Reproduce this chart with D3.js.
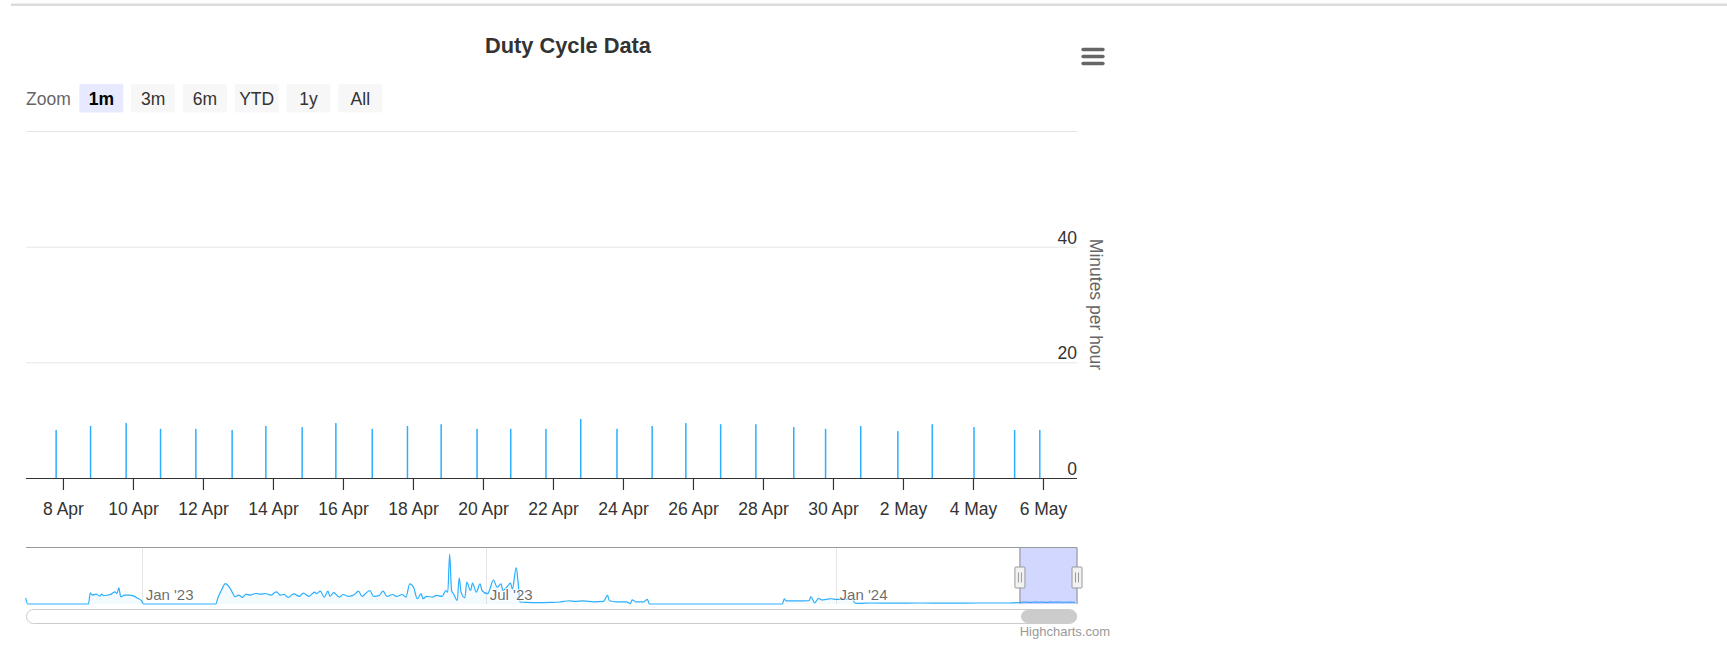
<!DOCTYPE html>
<html>
<head>
<meta charset="utf-8">
<script src="https://cdnjs.cloudflare.com/ajax/libs/d3/7.8.5/d3.min.js"></script>
<style>
  body { margin: 0; background: #fff; }
  svg { display: block; font-family: "Liberation Sans", Arial, Helvetica, sans-serif; }
</style>
</head>
<body>
<svg id="chart" width="1727" height="660"></svg>
<script>
// Main chart: one reading per day (minutes per hour)
var barTimes = [
  '2024-04-07T19:20Z', '2024-04-08T18:56Z', '2024-04-09T19:20Z', '2024-04-10T18:56Z',
  '2024-04-11T19:08Z', '2024-04-12T20:01Z', '2024-04-13T19:08Z', '2024-04-14T20:01Z',
  '2024-04-15T19:08Z', '2024-04-16T20:05Z', '2024-04-17T20:14Z', '2024-04-18T19:20Z',
  '2024-04-19T19:57Z', '2024-04-20T19:03Z', '2024-04-21T19:12Z', '2024-04-22T19:03Z',
  '2024-04-23T19:54Z', '2024-04-24T20:01Z', '2024-04-25T19:08Z', '2024-04-26T18:59Z',
  '2024-04-27T19:08Z', '2024-04-28T21:07Z', '2024-04-29T18:56Z', '2024-04-30T19:03Z',
  '2024-05-01T20:30Z', '2024-05-02T20:05Z', '2024-05-04T00:43Z', '2024-05-05T04:34Z',
  '2024-05-05T21:50Z'
]
var barValues = [
  8.3, 9.0, 9.5, 8.5, 8.5, 8.3, 9.0, 8.8, 9.5, 8.5, 9.0, 9.3, 8.5, 8.5, 8.5, 10.2,
  8.5, 9.0, 9.5, 9.3, 9.3, 8.8, 8.5, 9.0, 8.1, 9.3, 8.8, 8.3, 8.3
]
var yTicks = [0, 20, 40, 60]
var xTickDates = [
  '2024-04-08', '2024-04-10', '2024-04-12', '2024-04-14', '2024-04-16', '2024-04-18',
  '2024-04-20', '2024-04-22', '2024-04-24', '2024-04-26', '2024-04-28', '2024-04-30',
  '2024-05-02', '2024-05-04', '2024-05-06'
]
var viewRange = ['2024-04-06T22:40Z', '2024-05-06T23:20Z']

// Navigator: full history before the zoomed window
var navDates = [
  '2022-11-01', '2022-11-02', '2022-12-04', '2022-12-05', '2022-12-06', '2022-12-08',
  '2022-12-10', '2022-12-11', '2022-12-12', '2022-12-14', '2022-12-16', '2022-12-18',
  '2022-12-19', '2022-12-20', '2022-12-21', '2022-12-23', '2022-12-25', '2022-12-28',
  '2022-12-30', '2023-01-01', '2023-01-02', '2023-02-09', '2023-02-10', '2023-02-12',
  '2023-02-14', '2023-02-16', '2023-02-18', '2023-02-19', '2023-02-21', '2023-02-23',
  '2023-02-25', '2023-02-27', '2023-03-02', '2023-03-05', '2023-03-07', '2023-03-10',
  '2023-03-12', '2023-03-13', '2023-03-15', '2023-03-17', '2023-03-19', '2023-03-22',
  '2023-03-25', '2023-03-27', '2023-03-30', '2023-04-02', '2023-04-03', '2023-04-05',
  '2023-04-07', '2023-04-09', '2023-04-10', '2023-04-12', '2023-04-15', '2023-04-17',
  '2023-04-20', '2023-04-23', '2023-04-25', '2023-04-27', '2023-04-29', '2023-05-01',
  '2023-05-03', '2023-05-06', '2023-05-08', '2023-05-10', '2023-05-13', '2023-05-15',
  '2023-05-18', '2023-05-20', '2023-05-22', '2023-05-24', '2023-05-26', '2023-05-28',
  '2023-05-29', '2023-05-31', '2023-06-03', '2023-06-05', '2023-06-08', '2023-06-10',
  '2023-06-11', '2023-06-12', '2023-06-13', '2023-06-14', '2023-06-16', '2023-06-17',
  '2023-06-18', '2023-06-20', '2023-06-21', '2023-06-23', '2023-06-24', '2023-06-26',
  '2023-06-28', '2023-06-29', '2023-07-02', '2023-07-03', '2023-07-05', '2023-07-07',
  '2023-07-09', '2023-07-10', '2023-07-12', '2023-07-14', '2023-07-15', '2023-07-17',
  '2023-07-18', '2023-07-19', '2023-07-23', '2023-07-28', '2023-08-04', '2023-08-09',
  '2023-08-11', '2023-08-14', '2023-08-17', '2023-08-21', '2023-08-27', '2023-09-01',
  '2023-09-03', '2023-09-04', '2023-09-08', '2023-09-13', '2023-09-15', '2023-09-16',
  '2023-09-18', '2023-09-22', '2023-09-24', '2023-09-25', '2023-12-04', '2023-12-05',
  '2023-12-06', '2023-12-11', '2023-12-18', '2023-12-19', '2023-12-21', '2023-12-23',
  '2023-12-25', '2023-12-27', '2023-12-30', '2024-01-01', '2024-01-10', '2024-01-11',
  '2024-01-12', '2024-01-20', '2024-02-01', '2024-02-15', '2024-03-01', '2024-03-15',
  '2024-04-01'
]
var navValues = [
  30, 0, 0, 55, 44, 49, 39, 49, 41, 44, 49, 60,
  52, 80, 36, 44, 44, 39, 28, 16, 0, 0, 28, 69,
  101, 85, 52, 36, 44, 33, 49, 44, 52, 49, 52, 44,
  57, 60, 44, 48, 33, 50, 38, 54, 38, 59, 51, 64,
  34, 64, 38, 56, 34, 47, 38, 47, 64, 38, 54, 67,
  38, 43, 64, 38, 47, 38, 47, 34, 100, 83, 26, 51,
  26, 38, 34, 43, 38, 67, 59, 247, 67, 51, 18, 130,
  59, 31, 108, 67, 103, 59, 100, 67, 51, 70, 119, 83,
  100, 67, 83, 103, 75, 181, 108, 10, 8, 7, 8, 10,
  13, 16, 13, 15, 11, 13, 44, 16, 11, 11, 2, 20,
  11, 11, 23, 0, 0, 25, 15, 15, 16, 37, 6, 28,
  20, 23, 26, 23, 23, 6, 3, 5, 4, 5, 4, 5,
  5
]
var navTicks = ['2023-01-01', '2023-07-01', '2024-01-01']
var navRange = ['2022-11-01T04:00Z', '2024-05-06T23:00Z']
var navMax = 280

var zoomButtons = ['1m', '3m', '6m', 'YTD', '1y', 'All']
var selectedButton = '1m'

var blue = '#2caffe'
var svg = d3.select('#chart')

// frame: plot and navigator boxes
var plot = { left: 26, right: 1077, top: 131, bottom: 478 }
var nav = { top: 547.5, bottom: 604 }

// page rule at the top
svg.append('rect')
  .attr('x', 11).attr('y', 3.5).attr('width', 1716).attr('height', 2.5)
  .attr('fill', '#dcdcdc')

// title
svg.append('text')
  .attr('x', 568).attr('y', 53)
  .attr('text-anchor', 'middle')
  .attr('font-size', '21.8px').attr('font-weight', 'bold')
  .attr('fill', '#333333')
  .text('Duty Cycle Data')

// context menu icon
;[49.5, 56.5, 63.5].forEach(function (y) {
  svg.append('line')
    .attr('x1', 1083).attr('x2', 1103).attr('y1', y).attr('y2', y)
    .attr('stroke', '#666666').attr('stroke-width', 3.3)
    .attr('stroke-linecap', 'round')
})

// range selector
svg.append('text')
  .attr('x', 26).attr('y', 104.5)
  .attr('font-size', '17.5px').attr('fill', '#666666')
  .text('Zoom')

var btnStep = 51.8
var btnGap = 7.8
var btnScale = d3.scaleBand()
  .domain(zoomButtons)
  .range([79.3, 79.3 + btnStep * zoomButtons.length - btnGap])
  .paddingInner(btnGap / btnStep)
  .paddingOuter(0)

var btn = svg.append('g').selectAll('g')
  .data(zoomButtons)
  .join('g')
  .attr('transform', function (d) { return 'translate(' + btnScale(d) + ',84)' })
btn.append('rect')
  .attr('width', btnScale.bandwidth()).attr('height', 28.5)
  .attr('rx', 2)
  .attr('fill', function (d) { return d === selectedButton ? '#e6e9ff' : '#f7f7f7' })
btn.append('text')
  .attr('x', btnScale.bandwidth() / 2).attr('y', 20.5)
  .attr('text-anchor', 'middle')
  .attr('font-size', '17.5px')
  .attr('font-weight', function (d) { return d === selectedButton ? 'bold' : 'normal' })
  .attr('fill', function (d) { return d === selectedButton ? '#000000' : '#333333' })
  .text(function (d) { return d })

// main scales
var parse = function (s) { return new Date(s.length === 10 ? s + 'T00:00:00Z' : s) }
var x = d3.scaleUtc()
  .domain(viewRange.map(parse))
  .range([plot.left, plot.right])
var y = d3.scaleLinear()
  .domain([0, 60])
  .range([plot.bottom, plot.top])

// grid lines + right side labels
var grid = svg.append('g')
grid.selectAll('line')
  .data(yTicks)
  .join('line')
  .attr('x1', plot.left).attr('x2', plot.right)
  .attr('y1', function (d) { return y(d) + 0.5 })
  .attr('y2', function (d) { return y(d) + 0.5 })
  .attr('stroke', '#e6e6e6').attr('stroke-width', 1)
grid.selectAll('text')
  .data(yTicks.slice(0, -1))
  .join('text')
  .attr('x', plot.right).attr('y', function (d) { return y(d) - 3 })
  .attr('text-anchor', 'end')
  .attr('font-size', '17.5px').attr('fill', '#333333')
  .text(function (d) { return d })

svg.append('text')
  .attr('transform', 'translate(1090,' + ((plot.top + plot.bottom) / 2) + ') rotate(90)')
  .attr('text-anchor', 'middle')
  .attr('font-size', '17.5px').attr('fill', '#666666')
  .text('Minutes per hour')

// columns
var bars = barTimes.map(function (t, i) { return { t: parse(t), v: barValues[i] } })
svg.append('g').selectAll('rect')
  .data(bars)
  .join('rect')
  .attr('x', function (d) { return x(d.t) - 0.75 })
  .attr('y', function (d) { return y(d.v) })
  .attr('width', 1.5)
  .attr('height', function (d) { return y(0) - y(d.v) })
  .attr('fill', blue)

// x axis
var xAxis = d3.axisBottom(x)
  .tickValues(xTickDates.map(parse))
  .tickFormat(d3.utcFormat('%-d %b'))
  .tickSize(12)
  .tickPadding(13)
var gx = svg.append('g')
  .attr('transform', 'translate(0,' + plot.bottom + ')')
  .call(xAxis)
gx.select('.domain').attr('stroke', '#333333').attr('stroke-width', 1.2)
  .attr('d', 'M' + plot.left + ',0.5H' + plot.right)
gx.selectAll('.tick line').attr('stroke', '#333333').attr('stroke-width', 1.2)
gx.selectAll('.tick text')
  .attr('font-size', '17.5px').attr('fill', '#333333')
  .attr('font-family', '"Liberation Sans", Arial, sans-serif')

// navigator
var nx = d3.scaleUtc()
  .domain(navRange.map(parse))
  .range([plot.left, plot.right])
var ny = d3.scaleLinear()
  .domain([0, navMax])
  .range([nav.bottom, nav.top])

var navData = navDates.map(function (t, i) { return { t: parse(t), v: navValues[i] } })
  .concat(bars)

var ng = svg.append('g')
ng.selectAll('line.grid')
  .data(navTicks.map(parse))
  .join('line')
  .attr('class', 'grid')
  .attr('x1', function (d) { return Math.round(nx(d)) + 0.5 })
  .attr('x2', function (d) { return Math.round(nx(d)) + 0.5 })
  .attr('y1', nav.top).attr('y2', nav.bottom)
  .attr('stroke', '#e6e6e6')

ng.append('path')
  .datum(navData)
  .attr('fill', blue).attr('fill-opacity', 0.05)
  .attr('d', d3.area()
    .x(function (d) { return nx(d.t) })
    .y0(nav.bottom)
    .y1(function (d) { return ny(d.v) })
    .curve(d3.curveMonotoneX))
ng.append('path')
  .datum(navData)
  .attr('fill', 'none').attr('stroke', blue).attr('stroke-width', 1.2)
  .attr('d', d3.line()
    .x(function (d) { return nx(d.t) })
    .y(function (d) { return ny(d.v) })
    .curve(d3.curveMonotoneX))

ng.selectAll('text')
  .data(navTicks.map(parse))
  .join('text')
  .attr('x', function (d) { return nx(d) + 4 })
  .attr('y', nav.bottom - 4)
  .attr('font-size', '15px').attr('fill', '#000000').attr('fill-opacity', 0.6)
  .attr('stroke', '#ffffff').attr('stroke-width', 2).attr('stroke-opacity', 0.8)
  .attr('paint-order', 'stroke')
  .text(d3.utcFormat("%b '%y"))

// mask for the selected window
var m0 = nx(x.domain()[0])
var m1 = nx(x.domain()[1])
ng.append('rect')
  .attr('x', m0).attr('y', nav.top)
  .attr('width', m1 - m0).attr('height', nav.bottom - nav.top)
  .attr('fill', 'rgba(102,122,255,0.3)')

// outline
ng.append('path')
  .attr('fill', 'none').attr('stroke', '#999999').attr('stroke-width', 1.2)
  .attr('d', 'M' + plot.left + ',' + nav.top + 'H' + plot.right +
    'M' + m0 + ',' + nav.top + 'V' + nav.bottom +
    'M' + m1 + ',' + nav.top + 'V' + nav.bottom)

// handles
;[m0, m1].forEach(function (hx) {
  var h = ng.append('g').attr('transform', 'translate(' + hx + ',577.5)')
  h.append('rect')
    .attr('x', -5).attr('y', -10.5).attr('width', 10).attr('height', 21)
    .attr('rx', 1)
    .attr('fill', '#f2f2f2').attr('stroke', '#999999')
  h.append('path')
    .attr('d', 'M-1.5,-5V5M1.5,-5V5')
    .attr('stroke', '#999999').attr('stroke-width', 1)
})

// scrollbar
svg.append('rect')
  .attr('x', plot.left + 0.5).attr('y', 609.5)
  .attr('width', plot.right - plot.left - 1).attr('height', 14)
  .attr('rx', 7)
  .attr('fill', '#ffffff').attr('stroke', '#cccccc')
svg.append('rect')
  .attr('x', m0 + 1).attr('y', 610)
  .attr('width', m1 - m0 - 1).attr('height', 13)
  .attr('rx', 6.5)
  .attr('fill', '#cccccc')

// credits
svg.append('text')
  .attr('x', 1110).attr('y', 636)
  .attr('text-anchor', 'end')
  .attr('font-size', '13px').attr('fill', '#999999')
  .text('Highcharts.com')
</script>
</body>
</html>
